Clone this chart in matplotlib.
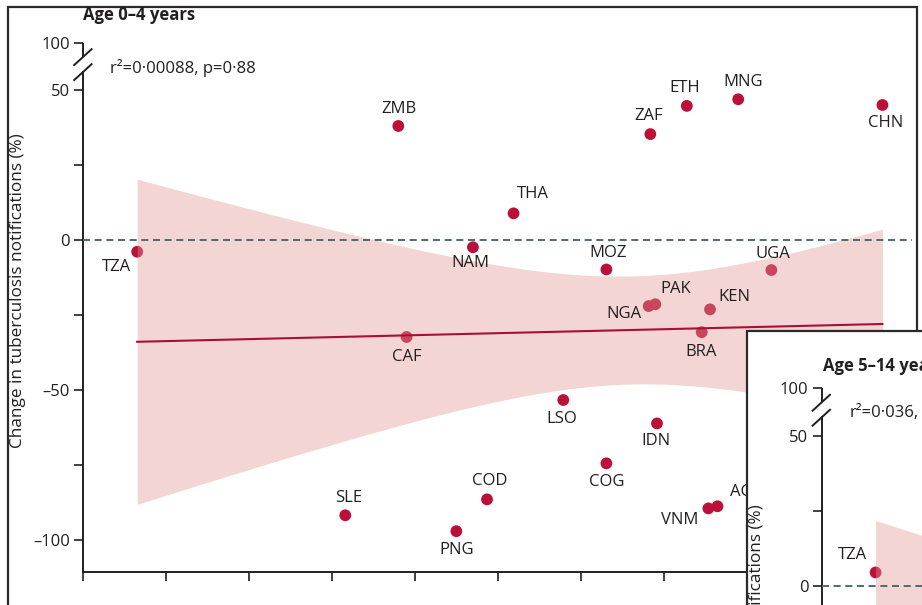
import numpy as np
import matplotlib
matplotlib.use("Agg")
import matplotlib.pyplot as plt
from matplotlib.patches import Rectangle

plt.rcParams['font.family'] = ['Open Sans', 'DejaVu Sans']

# ---- data: age 0-4 years ----
countries = ['TZA', 'ZMB', 'THA', 'NAM', 'MOZ', 'NGA', 'PAK', 'KEN', 'BRA', 'UGA',
             'CAF', 'LSO', 'IDN', 'COG', 'COD', 'PNG', 'SLE', 'VNM', 'AGO', 'ZAF',
             'ETH', 'MNG', 'CHN']
x_vals = [6.5, 38.0, 51.9, 47.0, 63.1, 68.2, 69.0, 75.6, 74.6, 83.0,
          39.0, 57.9, 69.2, 63.1, 48.7, 45.0, 31.6, 75.4, 76.5, 68.4,
          72.8, 79.0, 96.4]
change_0_4 = [-3.9, 38.0, 8.9, -2.4, -9.8, -22.0, -21.4, -23.1, -30.7, -10.0,
              -32.3, -53.3, -61.1, -74.4, -86.4, -97.0, -91.7, -89.4, -88.7, 35.3,
              44.7, 46.9, 45.0]
# linear fit and 95% CI summary: centre = a + b*x, half-width = sqrt(A + B*(x - m)^2)
fit_0_4 = dict(a=-34.33, b=0.066, A=324.0, B=0.735, m=66.1)
stat_0_4 = 'r\u00b2=0\u00b700088, p=0\u00b788'

# ---- data: age 5-14 years ----
countries_5_14 = ['TZA']
x_5_14 = [6.5]
change_5_14 = [4.4]
fit_5_14 = dict(a=-26.4, b=-0.17, A=300.0, B=0.6, m=66.0)
stat_5_14 = 'r\u00b2=0\u00b7036,'

# label offsets (pixels: right, down)
label_offsets = {
    'TZA': (-21, 15), 'ZMB': (1, -17), 'THA': (19, -19), 'NAM': (-3, 16),
    'MOZ': (2, -16), 'NGA': (-25, 8), 'PAK': (20, -15), 'KEN': (24, -12),
    'BRA': (-1, 20), 'UGA': (2, -16), 'CAF': (0, 20), 'LSO': (-2, 19),
    'IDN': (-1, 18), 'COG': (0, 19), 'COD': (3, -18), 'PNG': (0, 19),
    'SLE': (3, -17), 'VNM': (-29, 12), 'AGO': (30, -14), 'ZAF': (-2, -18),
    'ETH': (-2, -18), 'MNG': (5, -17), 'CHN': (3, 18),
}
label_offsets_5_14 = {'TZA': (-23, -17)}

DOT = '#bb1139'
LINE = '#a80f36'
BAND = '#e19691'
INK = '#231f20'
ZERO = '#4e6b6e'

W, H = 922, 605
K = 0.315  # compression of the axis above the break


def fwd(v):
    v = np.asarray(v, dtype=float)
    return np.where(v <= 50, v, 50 + (v - 50) * K)


def inv(u):
    u = np.asarray(u, dtype=float)
    return np.where(u <= 50, u, 50 + (u - 50) / K)


def draw_panel(ax, names, xs, ys, fit, offsets):
    ax.set_facecolor('none')
    ax.set_yscale('function', functions=(fwd, inv))
    ax.set_xlim(0, 100)
    ax.set_ylim(-110.5, 100)

    for s in ('top', 'right'):
        ax.spines[s].set_visible(False)
    for s in ('left', 'bottom'):
        ax.spines[s].set_linewidth(1.4)
        ax.spines[s].set_color(INK)
    ax.spines['left'].set_bounds(-110.5, float(inv(56.1)))
    ax.plot([0, 0], [float(inv(61.1)), 100], color=INK, lw=1.4,
            clip_on=False, solid_capstyle='butt')
    # break marks
    for u0, u1 in ((53.3, 58.6), (58.3, 63.6)):
        ax.plot([-1.1, 1.0], inv([u0, u1]), color=INK, lw=1.4, clip_on=False)

    ax.set_yticks([-100, -75, -50, -25, 0, 25, 50, 100])
    ax.set_yticklabels(['\u2013100', '', '\u201350', '', '0', '', '50', '100'])
    ax.yaxis.set_minor_locator(matplotlib.ticker.NullLocator())
    ax.set_xticks(np.arange(0, 101, 10))
    ax.tick_params(direction='out', length=6.5, width=1.2, color=INK,
                   labelsize=12, pad=3, labelcolor=INK, labelbottom=False)

    xs = np.asarray(xs)
    ys = np.asarray(ys)
    ax.scatter(xs, ys, s=72, color=DOT, edgecolors='none', zorder=2)

    xf = np.linspace(min(x_vals), max(x_vals), 200)
    centre = fit['a'] + fit['b'] * xf
    half = np.sqrt(fit['A'] + fit['B'] * (xf - fit['m']) ** 2)
    ax.fill_between(xf, centre - half, centre + half, color=BAND, alpha=0.4,
                    lw=0, zorder=3)
    ax.plot(xf, centre, color=LINE, lw=1.5, zorder=5)
    ax.axhline(0, color=ZERO, lw=1.4, dashes=(3.6, 2.4), zorder=4)

    for n, x, y in zip(names, xs, ys):
        dx, dy = offsets[n]
        ax.annotate(n, (x, y), xytext=(dx * 0.72, -dy * 0.72),
                    textcoords='offset points', ha='center', va='center',
                    fontsize=12, color=INK, zorder=6)


fig = plt.figure(figsize=(W / 100, H / 100), dpi=100)

# main panel
ax = fig.add_axes([83.3 / W, (H - 571.7) / H, 829 / W, 529 / H])
ax.set_zorder(0)
draw_panel(ax, countries, x_vals, change_0_4, fit_0_4, label_offsets)

# outer frame of the first panel
fig.patches.append(Rectangle((8 / W, -0.1), (917 - 8) / W, (H - 7) / H + 0.1,
                             transform=fig.transFigure, fill=False,
                             edgecolor='#2a2a2a', lw=1.6, zorder=1))
# frame of the second panel
fig.patches.append(Rectangle((747 / W, -0.1), 0.5, (H - 331) / H + 0.1,
                             transform=fig.transFigure, facecolor='white',
                             edgecolor='#2a2a2a', lw=1.6, zorder=1.5))

ax2 = fig.add_axes([821.7 / W, (H - 388.3 - 529) / H, 829 / W, 529 / H])
ax2.set_zorder(2)
draw_panel(ax2, countries_5_14, x_5_14, change_5_14, fit_5_14, label_offsets_5_14)

ylab = 'Change in tuberculosis notifications (%)'
fig.text(18 / W, 1 - 291 / H, ylab, rotation=90, ha='center', va='center',
         fontsize=12.3, color=INK)
fig.text(757 / W, 1 - 662 / H, ylab, rotation=90, ha='center', va='center',
         fontsize=12.3, color=INK, zorder=3)

fig.text(83 / W, 1 - 15 / H, 'Age 0\u20134 years', ha='left', va='center',
         fontsize=12, fontweight='bold', color=INK)
fig.text(110 / W, 1 - 68 / H, stat_0_4, ha='left', va='center',
         fontsize=12, color=INK)
fig.text(823 / W, 1 - 366 / H, 'Age 5\u201314 years', ha='left', va='center',
         fontsize=12, fontweight='bold', color=INK, zorder=3)
fig.text(850 / W, 1 - 413 / H, stat_5_14, ha='left', va='center',
         fontsize=12, color=INK, zorder=3)

fig.savefig('out.png', dpi=100, facecolor='white')
